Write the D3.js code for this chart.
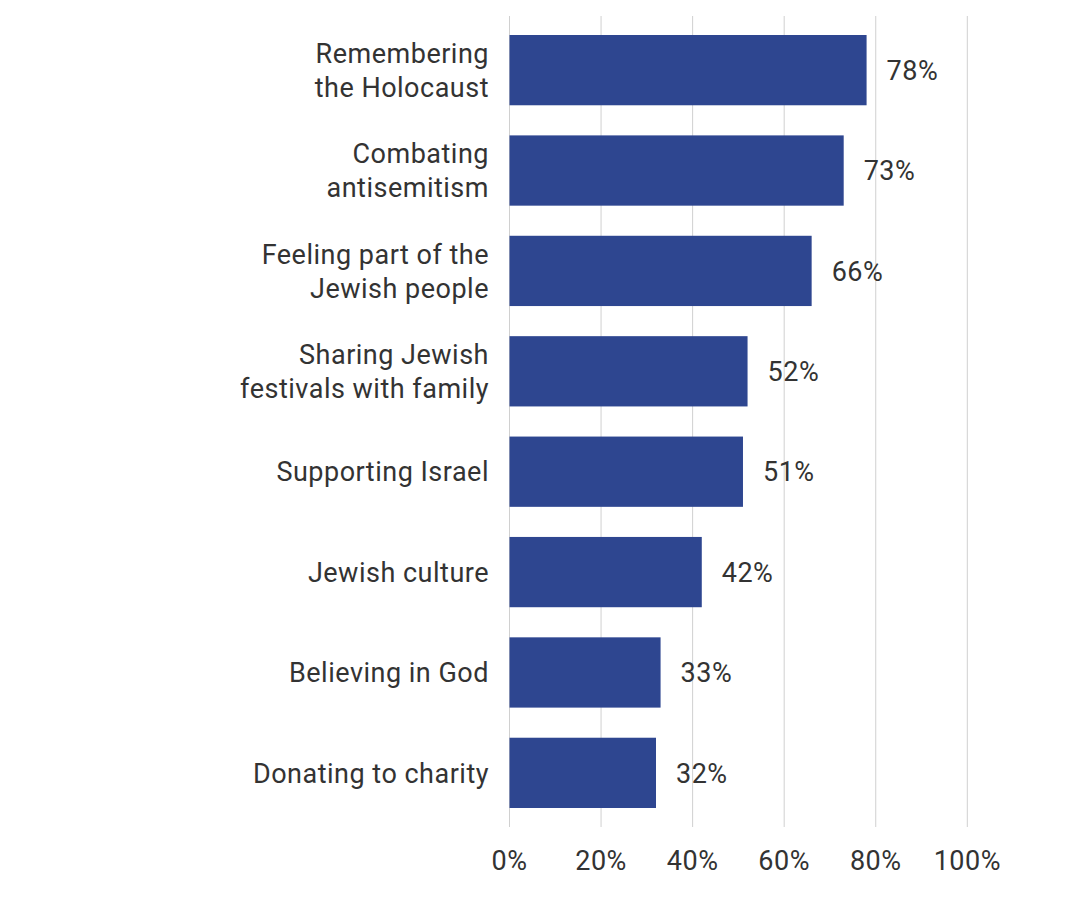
<!DOCTYPE html>
<html>
<head>
<meta charset="utf-8">
<script src="https://cdn.jsdelivr.net/npm/d3@7"></script>
<style>
  body { margin: 0; background: #fff; }
  text { font-family: Roboto, "Noto Sans", sans-serif; font-weight: 400; fill: #333; letter-spacing: 0.5px; }
</style>
</head>
<body>
<div id="chart"></div>
<script>
const categories = [
  ["Remembering", "the Holocaust"],
  ["Combating", "antisemitism"],
  ["Feeling part of the", "Jewish people"],
  ["Sharing Jewish", "festivals with family"],
  ["Supporting Israel"],
  ["Jewish culture"],
  ["Believing in God"],
  ["Donating to charity"]
];
const values = [78, 73, 66, 52, 51, 42, 33, 32];
const ticks = [0, 20, 40, 60, 80, 100];

const width = 1080, height = 924;
const fontSize = 27;

const svg = d3.select('#chart')
  .append('svg')
  .attr('width', width)
  .attr('height', height);

const x = d3.scaleLinear()
  .domain([0, 100])
  .range([509.5, 967.3]);

const y = d3.scaleBand()
  .domain(d3.range(values.length))
  .range([35, 808])
  .paddingInner(0.3)
  .paddingOuter(0);

// gridlines
svg.append('g')
  .selectAll('line')
  .data(ticks)
  .enter()
  .append('line')
  .attr('x1', d => x(d))
  .attr('x2', d => x(d))
  .attr('y1', 16)
  .attr('y2', 827)
  .attr('stroke', '#d0d0d0')
  .attr('stroke-width', 1);

// tick labels
svg.append('g')
  .selectAll('text')
  .data(ticks)
  .enter()
  .append('text')
  .attr('x', d => x(d))
  .attr('y', 870)
  .attr('text-anchor', 'middle')
  .style('font-size', fontSize + 'px')
  .text(d => d + '%');

// bars
svg.append('g')
  .selectAll('rect')
  .data(values)
  .enter()
  .append('rect')
  .attr('x', x(0))
  .attr('y', (d, i) => y(i))
  .attr('width', d => x(d) - x(0))
  .attr('height', y.bandwidth())
  .attr('fill', '#2e4690');

// value labels
svg.append('g')
  .selectAll('text')
  .data(values)
  .enter()
  .append('text')
  .attr('x', d => x(d) + 20)
  .attr('y', (d, i) => y(i) + y.bandwidth() / 2)
  .attr('dy', '0.36em')
  .style('font-size', fontSize + 'px')
  .text(d => d + '%');

// category labels
const lineH = 34;
const cat = svg.append('g')
  .selectAll('text')
  .data(categories)
  .enter()
  .append('text')
  .attr('x', 489)
  .attr('text-anchor', 'end')
  .style('font-size', fontSize + 'px');

cat.each(function (lines, i) {
  const cy = y(i) + y.bandwidth() / 2;
  const first = cy - (lines.length - 1) * lineH / 2;
  d3.select(this).selectAll('tspan')
    .data(lines)
    .enter()
    .append('tspan')
    .attr('x', 489)
    .attr('y', (d, j) => first + j * lineH)
    .attr('dy', '0.36em')
    .text(d => d);
});
</script>
</body>
</html>
